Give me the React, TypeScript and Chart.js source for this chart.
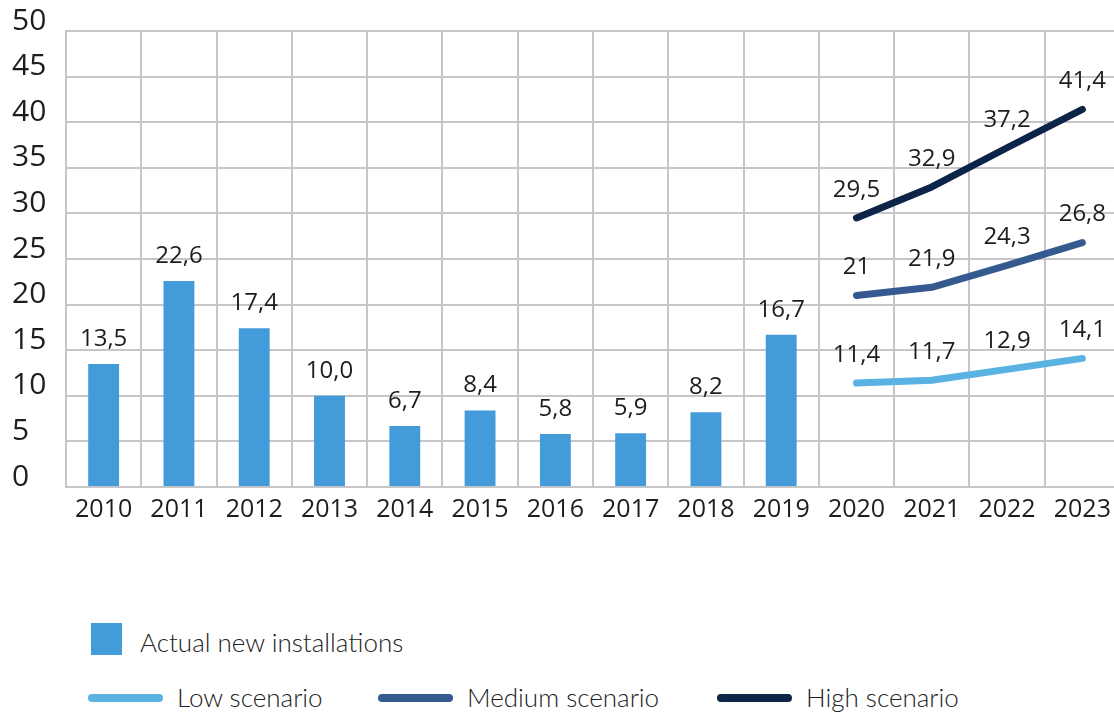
import React, { useEffect, useRef } from 'react';
import { Chart, registerables } from 'chart.js';

Chart.register(...registerables);

const years = ['2010', '2011', '2012', '2013', '2014', '2015', '2016', '2017', '2018', '2019', '2020', '2021', '2022', '2023'];
const actualValues = [13.5, 22.6, 17.4, 10.0, 6.7, 8.4, 5.8, 5.9, 8.2, 16.7, null, null, null, null];
const lowValues = [null, null, null, null, null, null, null, null, null, null, 11.4, 11.7, 12.9, 14.1];
const mediumValues = [null, null, null, null, null, null, null, null, null, null, 21, 21.9, 24.3, 26.8];
const highValues = [null, null, null, null, null, null, null, null, null, null, 29.5, 32.9, 37.2, 41.4];

const actualLabels = ['13,5', '22,6', '17,4', '10,0', '6,7', '8,4', '5,8', '5,9', '8,2', '16,7', '', '', '', ''];
const lowLabels = ['', '', '', '', '', '', '', '', '', '', '11,4', '11,7', '12,9', '14,1'];
const mediumLabels = ['', '', '', '', '', '', '', '', '', '', '21', '21,9', '24,3', '26,8'];
const highLabels = ['', '', '', '', '', '', '', '', '', '', '29,5', '32,9', '37,2', '41,4'];

const yTicks = [0, 5, 10, 15, 20, 25, 30, 35, 40, 45, 50];

const seriesNames = ['Actual new installations', 'Low scenario', 'Medium scenario', 'High scenario'];
const seriesColors = ['#439bda', '#5ab2e2', '#345a8f', '#0d2347'];

const TEXT = '#1d1d1d';
const GRID = '#c5c6ca';
const FONT = '"Open Sans", "Noto Sans", sans-serif';
const LEGEND_FONT = 'Lato, "Open Sans", sans-serif';

const valueLabelSets = [actualLabels, lowLabels, mediumLabels, highLabels];

const valueLabelPlugin = {
  id: 'valueLabels',
  afterDatasetsDraw(chart: any) {
    const ctx = chart.ctx;
    ctx.save();
    ctx.font = `24px ${FONT}`;
    ctx.fillStyle = TEXT;
    ctx.textAlign = 'center';
    ctx.textBaseline = 'middle';
    chart.data.datasets.forEach((ds: any, i: number) => {
      const meta = chart.getDatasetMeta(i);
      const labels = valueLabelSets[i];
      meta.data.forEach((el: any, j: number) => {
        if (ds.data[j] == null || !labels[j]) return;
        const off = ds.type === 'bar' ? 25 : 28;
        ctx.fillText(labels[j], el.x, el.y - off);
      });
    });
    ctx.restore();
  },
};

export default function App() {
  const ref = useRef<HTMLCanvasElement | null>(null);

  useEffect(() => {
    if (!ref.current) return;
    const lineDs = (idx: number, data: (number | null)[]) => ({
      type: 'line' as const,
      label: seriesNames[idx],
      data,
      borderColor: seriesColors[idx],
      backgroundColor: seriesColors[idx],
      borderWidth: 7,
      borderCapStyle: 'round' as const,
      borderJoinStyle: 'round' as const,
      pointRadius: 0,
      tension: 0,
      spanGaps: false,
    });
    const chart = new Chart(ref.current, {
      type: 'bar',
      data: {
        labels: years,
        datasets: [
          {
            type: 'bar',
            label: seriesNames[0],
            data: actualValues,
            backgroundColor: seriesColors[0],
            barPercentage: 0.41,
            categoryPercentage: 1,
          } as any,
          lineDs(1, lowValues),
          lineDs(2, mediumValues),
          lineDs(3, highValues),
        ],
      },
      options: {
        animation: false,
        responsive: false,
        devicePixelRatio: 1,
        layout: { padding: { left: 12, right: 10, top: 31, bottom: 23 } },
        plugins: {
          legend: { display: false },
          tooltip: { enabled: false },
        },
        scales: {
          x: {
            grid: { color: GRID, lineWidth: 2, drawTicks: false, offset: true },
            border: { color: GRID, width: 2 },
            ticks: {
              color: TEXT,
              font: { family: FONT, size: 25 },
              padding: 8,
              maxRotation: 0,
              autoSkip: false,
            },
            afterFit(scale: any) {
              scale.height = 50;
            },
          },
          y: {
            min: 0,
            max: 50,
            grid: { color: GRID, lineWidth: 2, drawTicks: false },
            border: { color: GRID, width: 2 },
            afterBuildTicks(scale: any) {
              scale.ticks = yTicks.map((v) => ({ value: v }));
            },
            ticks: {
              color: TEXT,
              font: { family: FONT, size: 30 },
              crossAlign: 'far',
              labelOffset: -10,
              padding: 0,
            },
            afterFit(scale: any) {
              scale.width = 54;
            },
          },
        },
      },
      plugins: [valueLabelPlugin],
    });
    return () => chart.destroy();
  }, []);

  const legendText: React.CSSProperties = {
    position: 'absolute',
    fontFamily: LEGEND_FONT,
    fontSize: 26,
    fontWeight: 300,
    color: '#222',
    lineHeight: '30px',
    whiteSpace: 'nowrap',
  };
  const lineSwatch = (left: number, color: string): React.CSSProperties => ({
    position: 'absolute',
    left,
    top: 694,
    width: 75,
    height: 8,
    borderRadius: 4,
    background: color,
  });

  return (
    <div style={{ position: 'fixed', left: 0, top: 0, width: 1114, height: 712, overflow: 'hidden', background: '#fff' }}>
      <canvas ref={ref} width={1130} height={560} style={{ position: 'absolute', left: 0, top: 0, width: 1130, height: 560 }} />
      <div style={{ position: 'absolute', left: 91, top: 623, width: 31, height: 32, background: seriesColors[0] }} />
      <div style={{ ...legendText, left: 140, top: 627 }}>{seriesNames[0]}</div>
      <div style={lineSwatch(88, seriesColors[1])} />
      <div style={{ ...legendText, left: 177, top: 682 }}>{seriesNames[1]}</div>
      <div style={lineSwatch(378, seriesColors[2])} />
      <div style={{ ...legendText, left: 467, top: 682 }}>{seriesNames[2]}</div>
      <div style={lineSwatch(717, seriesColors[3])} />
      <div style={{ ...legendText, left: 806, top: 682 }}>{seriesNames[3]}</div>
    </div>
  );
}
